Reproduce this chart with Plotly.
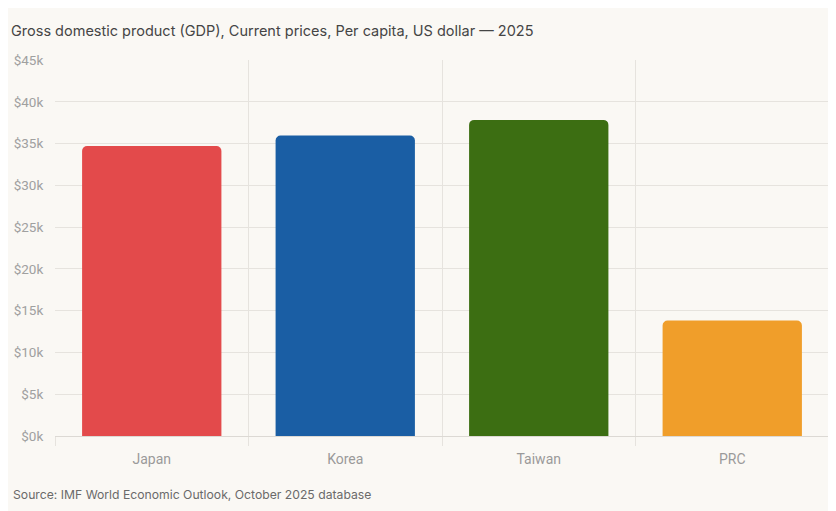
import plotly.graph_objects as go

countries = ["Japan", "Korea", "Taiwan", "PRC"]
gdp_per_capita = [34700, 35960, 37830, 13810]
bar_colors = ["#e34a4b", "#1a5ea4", "#3c6e12", "#f09e2a"]
y_tick_vals = [0, 5000, 10000, 15000, 20000, 25000, 30000, 35000, 40000, 45000]
y_tick_text = ["$0k", "$5k", "$10k", "$15k", "$20k", "$25k", "$30k", "$35k", "$40k", "$45k"]
title_text = "Gross domestic product (GDP), Current prices, Per capita, US dollar — 2025"
source_text = "Source: IMF World Economic Outlook, October 2025 database"

W, H = 836, 511
OFF = 8  # page body margin offset
L, R, T, B = 55 - OFF, 7 + OFF, 60 - OFF, 75 + OFF
bg = "#faf8f4"
grid = "#e6e3de"

fig = go.Figure(go.Bar(
    x=countries, y=gdp_per_capita,
    marker=dict(color=bar_colors, cornerradius=5, line=dict(width=0)),
    hoverinfo="x+y",
))

fig.update_layout(
    width=W, height=H,
    margin=dict(l=L, r=R, t=T, b=B, autoexpand=False),
    paper_bgcolor=bg, plot_bgcolor=bg,
    font=dict(family="Roboto, Inter, sans-serif"),
    bargap=0.28,
    showlegend=False,
    title=dict(
        text=title_text,
        font=dict(family="Inter, Roboto, sans-serif", size=14.5, color="#454545"),
        xref="container", yref="container",
        x=(11 - OFF) / W, xanchor="left",
        y=1 - (31 - OFF) / H, yanchor="middle",
    ),
    xaxis=dict(
        type="category",
        automargin=False,
        tickson="boundaries",
        showgrid=True, gridcolor=grid, gridwidth=1,
        ticks="outside", ticklen=9, tickcolor=grid, tickwidth=1,
        showline=False,
        ticklabelstandoff=13,
        tickfont=dict(size=14, color="#9a9a9a"),
        fixedrange=True,
    ),
    yaxis=dict(
        range=[0, 45000],
        automargin=False,
        tickvals=y_tick_vals, ticktext=y_tick_text,
        showgrid=True, gridcolor=grid, gridwidth=1,
        zeroline=True, zerolinecolor="#dcd9d4", zerolinewidth=1,
        ticks="outside", ticklen=8, tickcolor=bg,
        tickfont=dict(size=13.5, color="#a0a0a0"),
        fixedrange=True,
    ),
    annotations=[dict(
        text=source_text,
        xref="paper", yref="paper",
        x=(11 - 55) / (W - L - R), xanchor="left",
        y=-(494 - 436) / (H - T - B), yanchor="middle",
        showarrow=False,
        font=dict(family="Inter, Roboto, sans-serif", size=12.2, color="#6a6a6a"),
    )],
)

fig.write_html("out.html")
